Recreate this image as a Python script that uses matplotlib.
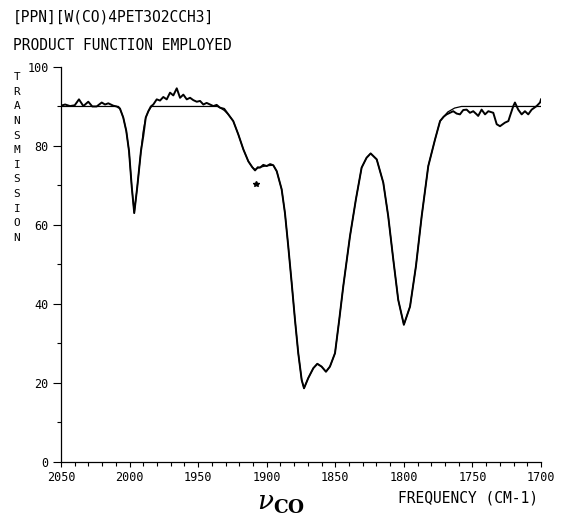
import matplotlib
matplotlib.use("Agg")
import matplotlib.pyplot as plt
from matplotlib.ticker import MultipleLocator

# ---------------- data ----------------
title_line1 = "[PPN][W(CO)4PET3O2CCH3]"
title_line2 = "PRODUCT FUNCTION EMPLOYED"
y_label = "TRANSMISSION"
x_label = "FREQUENCY (CM-1)"
nu_label = r"$\nu_{\mathbf{CO}}$"

x_ticks = [2050, 2000, 1950, 1900, 1850, 1800, 1750, 1700]
y_ticks = [0, 20, 40, 60, 80, 100]

# measured spectrum (wavenumber, % transmission)
meas_wn = [2050, 2047.0, 2043.4, 2040.0, 2036.9, 2033.7, 2030.1, 2027.2, 2024.0,
           2020.3, 2017.9, 2015.5, 2011.9, 2009.4, 2007.0, 2006.3, 2004.6, 2002.4,
           2000.4, 1998.4, 1996.6, 1994.4, 1991.7, 1990.0, 1988.2, 1986.3, 1984.5,
           1982.7, 1980.2, 1977.8, 1975.4, 1972.9, 1970.5, 1968.1, 1965.6, 1963.2,
           1960.8, 1958.3, 1955.9, 1953.5, 1951.0, 1948.6, 1946.2, 1943.8, 1941.4,
           1938.9, 1936.5, 1934.1, 1931.0, 1928.0, 1924.4, 1920.7, 1917.0, 1913.4,
           1910.5, 1908.5, 1906.5, 1904.9, 1902.5, 1900.0, 1897.5, 1895.2, 1892.7,
           1889.1, 1886.7, 1884.3, 1881.8, 1879.4, 1877.0, 1874.5, 1872.8, 1869.7,
           1866.0, 1863.1, 1860.0, 1856.8, 1853.9, 1850.2, 1847.1, 1844.2, 1839.3,
           1835.0, 1830.8, 1827.2, 1824.2, 1819.8, 1815.0, 1811.4, 1807.7, 1804.1,
           1800.0, 1795.5, 1791.2, 1787.0, 1782.2, 1777.3, 1773.6, 1771.0, 1768.8,
           1766.4, 1764.0, 1761.5, 1759.1, 1756.7, 1754.2, 1751.8, 1749.4, 1746.9,
           1745.8, 1743.3, 1740.8, 1738.4, 1734.8, 1732.3, 1729.9, 1726.3, 1723.8,
           1722.6, 1720.2, 1719.0, 1716.6, 1714.1, 1711.7, 1709.3, 1706.8, 1703.2,
           1700.7, 1700.0]
meas_T = [90.2, 90.5, 90.1, 90.3, 91.8, 90.1, 91.2, 90.0, 90.0,
          91.0, 90.5, 90.8, 90.2, 90.0, 89.5, 88.8, 87.2, 83.8,
          78.7, 69.6, 63.0, 69.6, 78.7, 82.5, 87.2, 88.8, 90.0,
          90.5, 91.8, 91.5, 92.4, 91.8, 93.5, 92.8, 94.6, 92.2,
          93.0, 91.8, 92.2, 91.6, 91.2, 91.4, 90.5, 90.9, 90.5,
          90.1, 90.4, 89.7, 89.4, 88.0, 86.3, 82.9, 79.1, 76.1,
          74.6, 73.8, 74.6, 74.5, 75.2, 74.9, 75.4, 75.1, 73.6,
          69.0, 63.0, 54.6, 45.3, 36.0, 27.5, 20.7, 18.6, 21.2,
          23.7, 24.8, 24.1, 22.8, 24.1, 27.5, 36.0, 44.4, 57.1,
          66.4, 74.5, 77.0, 78.1, 76.6, 70.7, 62.2, 51.2, 41.0,
          34.7, 39.3, 49.5, 62.2, 74.9, 81.6, 86.3, 87.4, 88.0,
          88.4, 88.8, 88.2, 88.0, 89.1, 89.2, 88.4, 88.8, 88.0,
          87.6, 89.2, 88.0, 88.8, 88.4, 85.5, 85.0, 85.9, 86.3,
          87.6, 90.1, 91.0, 89.2, 88.0, 88.8, 88.0, 89.2, 90.1,
          91.0, 91.8]

# fitted "product function" curve
fit_wn = [2050, 2008.0, 2006.3, 2004.6, 2002.4, 2000.4, 1998.4, 1996.6, 1994.4,
          1991.7, 1990.0, 1988.2, 1986.3, 1984.0, 1936.0, 1934.1, 1931.0, 1928.0,
          1924.4, 1920.7, 1917.0, 1913.4, 1910.5, 1908.5, 1906.5, 1904.9, 1900.0,
          1895.2, 1892.7, 1889.1, 1886.7, 1884.3, 1881.8, 1879.4, 1877.0, 1874.5,
          1872.8, 1869.7, 1866.0, 1863.1, 1860.0, 1856.8, 1853.9, 1850.2, 1847.1,
          1844.2, 1839.3, 1835.0, 1830.8, 1827.2, 1824.2, 1819.8, 1815.0, 1811.4,
          1807.7, 1804.1, 1800.0, 1795.5, 1791.2, 1787.0, 1782.2, 1777.3, 1773.6,
          1768.0, 1763.0, 1758.0, 1700.0]
fit_T = [90.0, 90.0, 88.8, 87.2, 83.8, 78.7, 69.6, 63.0, 69.6,
         78.7, 83.8, 87.2, 88.8, 90.0, 90.0, 89.7, 89.0, 88.0,
         86.3, 82.9, 79.1, 76.1, 74.6, 74.0, 74.4, 74.6, 75.0,
         75.1, 73.6, 69.0, 63.0, 54.6, 45.3, 36.0, 27.5, 20.7,
         18.6, 21.2, 23.7, 24.8, 24.1, 22.8, 24.1, 27.5, 36.0,
         44.4, 57.1, 66.4, 74.5, 77.0, 78.1, 76.6, 70.7, 62.2,
         51.2, 41.0, 34.7, 39.3, 49.5, 62.2, 74.9, 81.6, 86.3,
         88.6, 89.6, 90.0, 90.0]

star_wn = [1907.8]
star_T = [70.4]

# ---------------- figure ----------------
W, H = 563, 522
fig = plt.figure(figsize=(W / 100, H / 100), dpi=100)
mono = "DejaVu Sans Mono"

ax = fig.add_axes([61 / W, 1 - 461.7 / H, 480 / W, (461.7 - 67) / H])
ax.plot(fit_wn, fit_T, color="black", lw=0.9, solid_joinstyle="round")
ax.plot(meas_wn, meas_T, color="black", lw=1.4, solid_joinstyle="round")
ax.plot(star_wn, star_T, linestyle="none", marker="*", ms=4, color="black")

ax.set_xlim(2050, 1700)
ax.set_ylim(0, 100)
ax.set_xticks(x_ticks)
ax.set_xticklabels([str(v) for v in x_ticks])
ax.set_yticks(y_ticks)
ax.set_yticklabels([str(v) for v in y_ticks])
ax.xaxis.set_minor_locator(MultipleLocator(10))
ax.yaxis.set_minor_locator(MultipleLocator(10))

for s in ["top", "right"]:
    ax.spines[s].set_visible(False)
for s in ["left", "bottom"]:
    ax.spines[s].set_linewidth(0.9)

ax.tick_params(axis="y", which="major", direction="out", length=5.8, width=0.8, pad=3)
ax.tick_params(axis="y", which="minor", direction="out", length=2.9, width=0.8)
ax.tick_params(axis="x", which="major", direction="out", length=3.8, width=0.8, pad=3)
ax.tick_params(axis="x", which="minor", direction="out", length=2.6, width=0.8)
for lab in ax.get_xticklabels() + ax.get_yticklabels():
    lab.set_fontfamily(mono)
    lab.set_fontsize(8.5)

fig.text(13 / W, 1 - 17.5 / H, title_line1, family=mono, fontsize=10.5, va="center", ha="left")
fig.text(13 / W, 1 - 46 / H, title_line2, family=mono, fontsize=10.5, va="center", ha="left")

fig.text(17 / W, 1 - 72 / H, "\n".join(y_label), family=mono, fontsize=8,
         va="top", ha="center", linespacing=1.58)

fig.text(398 / W, 1 - 498 / H, x_label, family=mono, fontsize=10.5, va="center", ha="left")

plt.rcParams["mathtext.fontset"] = "dejavuserif"
fig.text(281 / W, 1 - 503 / H, nu_label, fontsize=19, va="center", ha="center")

fig.savefig("out.png", dpi=100)
